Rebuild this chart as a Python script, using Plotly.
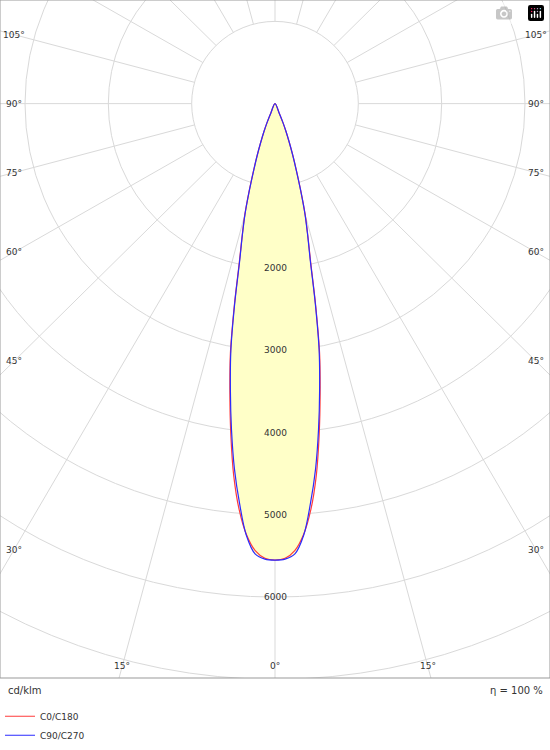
import numpy as np
import plotly.graph_objects as go

angles = [0, 1.25, 2.5, 3.75, 5, 6.25, 7.5, 8.75, 10, 11.25, 12.5, 13.75, 15, 16.25, 17.5, 18.75, 20, 21.25, 22.5, 23.75, 25]
c0_c180 = [5550, 5530, 5440, 5250, 4950, 4550, 4060, 3560, 3080, 2500, 1980, 1660, 1400, 1110, 860, 670, 500, 370, 250, 120, 0]
c90_c270 = [5550, 5540, 5480, 5260, 4880, 4470, 4000, 3520, 3050, 2480, 1960, 1650, 1390, 1100, 850, 660, 500, 370, 250, 120, 0]
ring_labels = [2000, 3000, 4000, 5000, 6000]
angle_labels = [105, 90, 75, 60, 45, 30]
bottom_labels = [15, 0]

S = 12.0  # cd per pixel
W, H = 550, 687
cx, cy = 275, 105
x0, x1 = -cx * S, (W - cx) * S
y1, y0 = cy * S, -(H - cy) * S

def curve(vals):
    a = np.array(angles[::-1] + [-v for v in angles[1:]])
    r = np.array(vals[::-1] + vals[1:])
    t = np.radians(a)
    return r * np.sin(t), -r * np.cos(t)

fig = go.Figure()
xr, yr = curve(c0_c180)
xb, yb = curve(c90_c270)
fig.add_trace(go.Scatter(x=xb, y=yb, fill="toself", fillcolor="rgba(255,255,200,1)",
                         line=dict(width=0, shape="spline"), hoverinfo="skip", showlegend=False))
fig.add_trace(go.Scatter(x=xr, y=yr, mode="lines", name="C0/C180", line=dict(color="#ff3b3b", width=1.2, shape="spline")))
fig.add_trace(go.Scatter(x=xb, y=yb, mode="lines", name="C90/C270", line=dict(color="#2b2bff", width=1.2, shape="spline")))

shapes = []
grid = "#d9d9d9"
for r in range(1000, 12001, 1000):
    shapes.append(dict(type="circle", xref="x", yref="y", x0=-r, x1=r, y0=-r, y1=r,
                       line=dict(color=grid, width=1), layer="below"))
for a in range(0, 360, 15):
    t = np.radians(a)
    shapes.append(dict(type="line", xref="x", yref="y", x0=1000 * np.sin(t), y0=-1000 * np.cos(t),
                       x1=14000 * np.sin(t), y1=-14000 * np.cos(t), line=dict(color=grid, width=1), layer="below"))
shapes.append(dict(type="rect", xref="paper", yref="paper", x0=0, x1=1, y0=0, y1=1,
                   line=dict(color="#999999", width=1)))

ann = []
f = dict(family="DejaVu Sans", size=9, color="#333333")
for v in ring_labels:
    ann.append(dict(x=0, y=-v, text=str(v), showarrow=False, font=f, xref="x", yref="y"))
for a in angle_labels:
    dy = -(cx - 14) * S / np.tan(np.radians(a))
    ann.append(dict(x=x0 + 14 * S, y=dy, text=f"{a}°", showarrow=False, font=f))
    ann.append(dict(x=x1 - 14 * S, y=dy, text=f"{a}°", showarrow=False, font=f))
for a in bottom_labels:
    yb_ = y0 + 12 * S
    dx = -yb_ * np.tan(np.radians(a))
    ann.append(dict(x=-dx, y=yb_, text=f"{a}°", showarrow=False, font=f))
    if a:
        ann.append(dict(x=dx, y=yb_, text=f"{a}°", showarrow=False, font=f))
ann.append(dict(xref="paper", yref="paper", x=0.01, y=-0.008, xanchor="left", yanchor="top",
                text="cd/klm", showarrow=False, font=dict(family="DejaVu Sans", size=10, color="#333")))
ann.append(dict(xref="paper", yref="paper", x=0.99, y=-0.008, xanchor="right", yanchor="top",
                text="η = 100 %", showarrow=False, font=dict(family="DejaVu Sans", size=10, color="#333")))

fig.update_layout(
    width=550, height=750, margin=dict(l=0, r=0, t=0, b=63),
    plot_bgcolor="white", paper_bgcolor="white",
    xaxis=dict(range=[x0, x1], visible=False, fixedrange=True),
    yaxis=dict(range=[y0, y1], visible=False, fixedrange=True),
    shapes=shapes, annotations=ann,
    legend=dict(x=0, y=-0.035, xanchor="left", yanchor="top", font=dict(family="DejaVu Sans", size=9, color="#333"),
                tracegroupgap=0, itemwidth=30, bgcolor="rgba(0,0,0,0)"),
)
fig.write_html("out.html", post_script="document.body.style.margin='0';document.body.style.overflow='hidden';")
